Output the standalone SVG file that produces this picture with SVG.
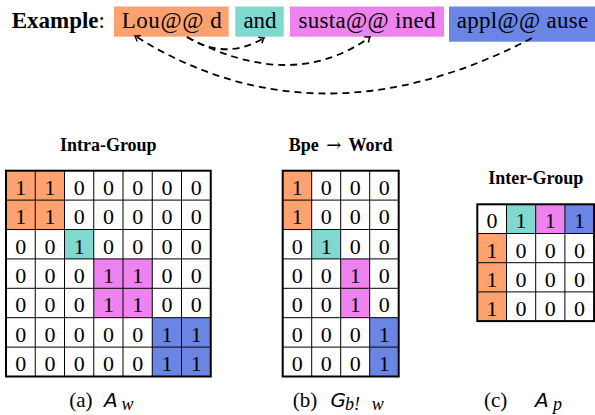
<svg xmlns="http://www.w3.org/2000/svg" width="595" height="415" viewBox="0 0 595 415">
<style>
text{font-family:"Liberation Serif","Times New Roman",serif;fill:#000}
.tok{font-size:23px;text-anchor:middle}
.ttl{font-size:18px;font-weight:bold;text-anchor:middle}
.d{font-size:22px;text-anchor:middle}
.cap{font-size:21px}
.o{fill:#FFA270}
.t{fill:#80D8CF}
.p{fill:#EE82EE}
.b{fill:#6A85E4}
.bg{fill:#fff}
.grid{fill:none;stroke:#000;stroke-width:1}
.out{fill:none;stroke:#000;stroke-width:2}
.con{fill:none;stroke:#000;stroke-width:1.8;stroke-dasharray:7 5}
text.mi{font-family:"DejaVu Sans",sans-serif;font-style:oblique;font-size:20px}
text.sub{font-family:"Liberation Serif",serif;font-style:italic;font-size:18px}
</style>
<defs>
<marker id="ah" viewBox="-6 -5 8 10" markerWidth="8" markerHeight="10" refX="0" refY="0" orient="auto" markerUnits="userSpaceOnUse">
<path d="M-4.5,-3.5 Q-1.5,-0.8 0,0 Q-1.5,0.8 -4.5,3.5" fill="none" stroke="#000" stroke-width="1.5"/>
</marker>
</defs>

<text x="11.7" y="28.3" font-size="23"><tspan font-weight="bold">Example</tspan>:</text>

<g id="tok-lou">
<rect class="o" x="114" y="6.5" width="114.7" height="30.2"/>
<text class="tok" x="171.7" y="28.3" textLength="100" lengthAdjust="spacing">Lou@@ d</text>
</g>
<g id="tok-and">
<rect class="t" x="235.3" y="6.5" width="48.4" height="30.2"/>
<text class="tok" x="260" y="28.3">and</text>
</g>
<g id="tok-susta">
<rect class="p" x="290" y="6.5" width="154" height="30.2"/>
<text class="tok" x="367" y="28.3" textLength="137" lengthAdjust="spacing">susta@@ ined</text>
</g>
<g id="tok-appl">
<rect class="b" x="449" y="6.5" width="146" height="35.2"/>
<text class="tok" x="522.5" y="28.3" textLength="131.6" lengthAdjust="spacing">appl@@ ause</text>
</g>

<g id="connectors">
<path class="con" d="M187,37 Q225,61 264,38" marker-end="url(#ah)"/>
<path class="con" d="M187,37 Q292,93 370,37" marker-end="url(#ah)"/>
<path class="con" d="M532,38 Q317,150 135,36" marker-end="url(#ah)"/>
</g>

<g id="intra-group">
<text class="ttl" x="108.3" y="150.7">Intra-Group</text>
<rect class="bg" x="6" y="170.7" width="204.75" height="205.8"/>
<rect class="o" x="6" y="170.7" width="58.5" height="58.8"/>
<rect class="t" x="64.5" y="229.5" width="29.25" height="29.4"/>
<rect class="p" x="93.75" y="258.9" width="58.5" height="58.8"/>
<rect class="b" x="152.25" y="317.7" width="58.5" height="58.8"/>
<path class="grid" d="M35.25,170.7V376.5M64.5,170.7V376.5M93.75,170.7V376.5M123,170.7V376.5M152.25,170.7V376.5M181.5,170.7V376.5M6,200.1H210.75M6,229.5H210.75M6,258.9H210.75M6,288.3H210.75M6,317.7H210.75M6,347.1H210.75"/>
<rect class="out" x="6" y="170.7" width="204.75" height="205.8"/>
<g class="d">
<text x="20.63 49.88 79.13 108.38 137.63 166.88 196.13" y="194.7">1100000</text>
<text x="20.63 49.88 79.13 108.38 137.63 166.88 196.13" y="224.1">1100000</text>
<text x="20.63 49.88 79.13 108.38 137.63 166.88 196.13" y="253.5">0010000</text>
<text x="20.63 49.88 79.13 108.38 137.63 166.88 196.13" y="282.9">0001100</text>
<text x="20.63 49.88 79.13 108.38 137.63 166.88 196.13" y="312.3">0001100</text>
<text x="20.63 49.88 79.13 108.38 137.63 166.88 196.13" y="341.7">0000011</text>
<text x="20.63 49.88 79.13 108.38 137.63 166.88 196.13" y="371.1">0000011</text>
</g>
</g>

<g id="bpe-word">
<text class="ttl" x="340.7" y="150.7" font-size="20" word-spacing="3">Bpe <tspan font-family="DejaVu Serif" font-weight="normal" font-size="18">→</tspan> Word</text>
<rect class="bg" x="282.7" y="170.7" width="116" height="205.8"/>
<rect class="o" x="282.7" y="170.7" width="29" height="58.8"/>
<rect class="t" x="311.7" y="229.5" width="29" height="29.4"/>
<rect class="p" x="340.7" y="258.9" width="29" height="58.8"/>
<rect class="b" x="369.7" y="317.7" width="29" height="58.8"/>
<path class="grid" d="M311.7,170.7V376.5M340.7,170.7V376.5M369.7,170.7V376.5M282.7,200.1H398.7M282.7,229.5H398.7M282.7,258.9H398.7M282.7,288.3H398.7M282.7,317.7H398.7M282.7,347.1H398.7"/>
<rect class="out" x="282.7" y="170.7" width="116" height="205.8"/>
<g class="d">
<text x="297.2 326.2 355.2 384.2" y="194.7">1000</text>
<text x="297.2 326.2 355.2 384.2" y="224.1">1000</text>
<text x="297.2 326.2 355.2 384.2" y="253.5">0100</text>
<text x="297.2 326.2 355.2 384.2" y="282.9">0010</text>
<text x="297.2 326.2 355.2 384.2" y="312.3">0010</text>
<text x="297.2 326.2 355.2 384.2" y="341.7">0001</text>
<text x="297.2 326.2 355.2 384.2" y="371.1">0001</text>
</g>
</g>

<g id="inter-group">
<text class="ttl" x="535.7" y="184">Inter-Group</text>
<rect class="bg" x="477.3" y="204.3" width="116.8" height="116.8"/>
<rect class="t" x="506.5" y="204.3" width="29.2" height="29.2"/>
<rect class="p" x="535.7" y="204.3" width="29.2" height="29.2"/>
<rect class="b" x="564.9" y="204.3" width="29.2" height="29.2"/>
<rect class="o" x="477.3" y="233.5" width="29.2" height="87.6"/>
<path class="grid" d="M506.5,204.3V321.1M535.7,204.3V321.1M564.9,204.3V321.1M477.3,233.5H594.1M477.3,262.7H594.1M477.3,291.9H594.1"/>
<rect class="out" x="477.3" y="204.3" width="116.8" height="116.8"/>
<g class="d">
<text x="491.9 521.1 550.3 579.5" y="228.3">0111</text>
<text x="491.9 521.1 550.3 579.5" y="257.5">1000</text>
<text x="491.9 521.1 550.3 579.5" y="286.7">1000</text>
<text x="491.9 521.1 550.3 579.5" y="315.9">1000</text>
</g>
</g>

<g id="captions">
<text class="cap" x="69.3" y="406.7">(a)</text>
<text class="mi" x="104" y="406.7">A</text>
<text class="sub" x="121.5" y="409.5">w</text>
<text class="cap" x="292.7" y="406.7">(b)</text>
<text class="mi" x="330.5" y="406.7">G</text>
<text class="sub" x="345" y="409.5" font-size="15">b!</text>
<text class="sub" x="371.7" y="409.5">w</text>
<text class="cap" x="484" y="406.7">(c)</text>
<text class="mi" x="535" y="406.7">A</text>
<text class="sub" x="553" y="409.5">p</text>
</g>
</svg>
